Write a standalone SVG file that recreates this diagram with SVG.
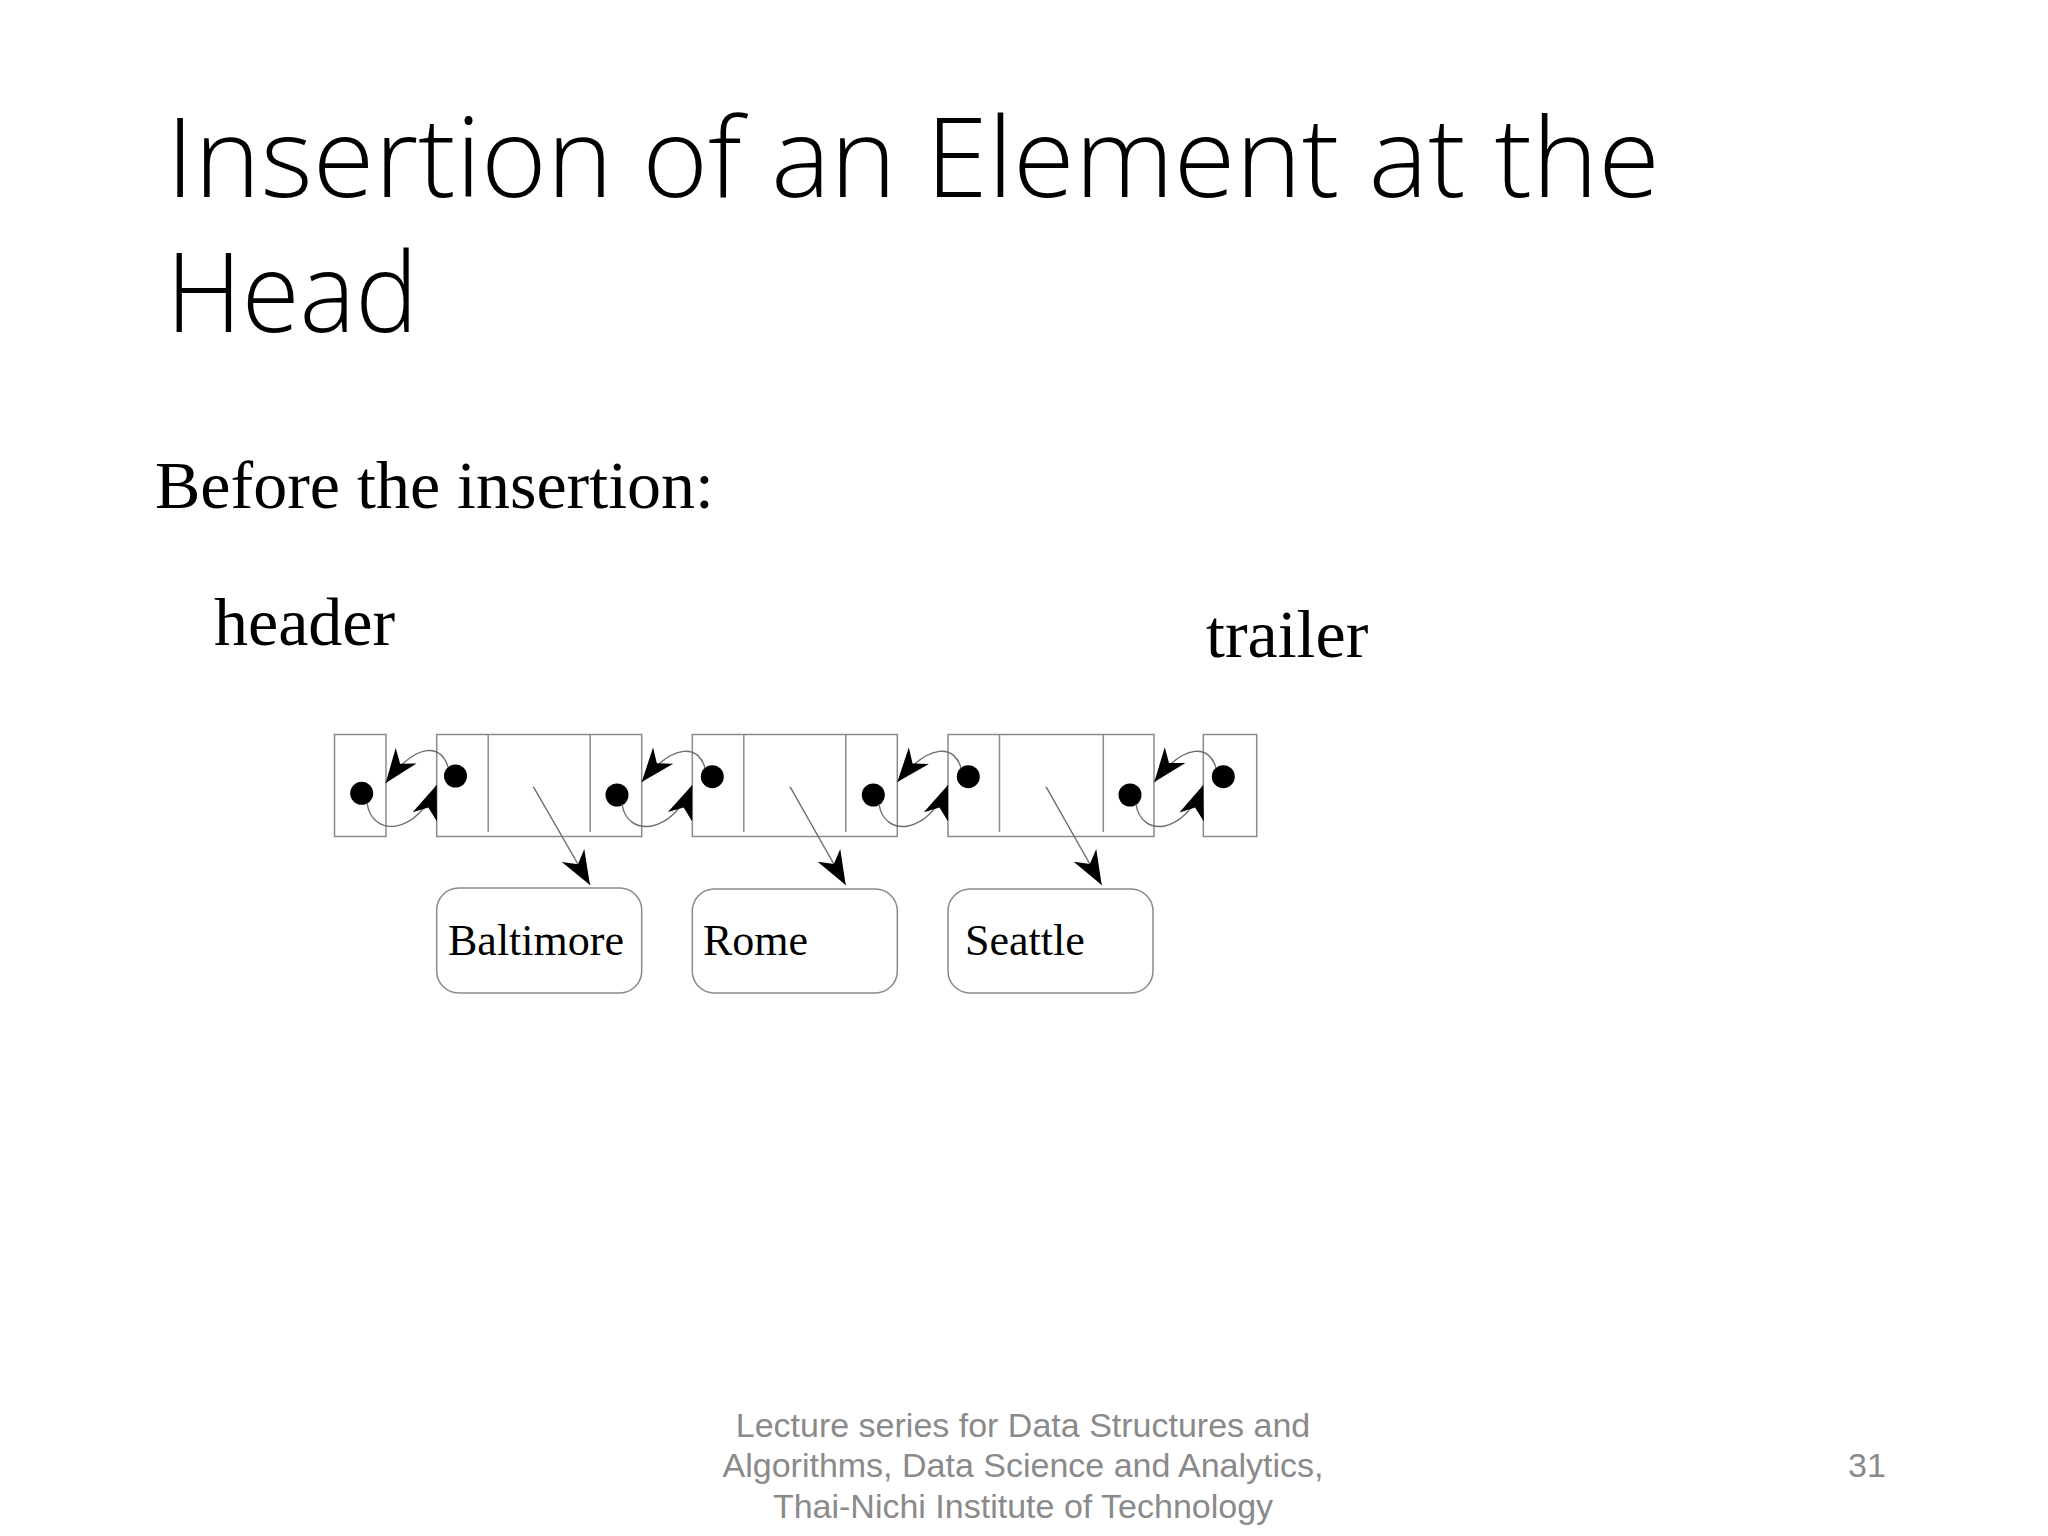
<svg xmlns="http://www.w3.org/2000/svg" width="2048" height="1536" viewBox="0 0 2048 1536">
<style>
.title{font-family:"Open Sans","Noto Sans",sans-serif;font-weight:300;font-size:110px;fill:#000}
.serif{font-family:"Liberation Serif","Times New Roman",serif;fill:#000}
.foot{font-family:"Liberation Sans",Arial,sans-serif;font-size:34px;fill:#8a8a8a}
.box{fill:#fff;stroke:#8a8a8a;stroke-width:1.5}
.div{stroke:#8a8a8a;stroke-width:1.5}
.ptr{fill:none;stroke:#6e6e6e;stroke-width:1.4}
.dot{fill:#000}
</style>
<defs>
<marker id="ah" markerUnits="userSpaceOnUse" viewBox="-35 -14 36 28" refX="0" refY="0" markerWidth="36" markerHeight="28" orient="auto">
<path d="M0,0 L-34,-13 L-24,0 L-34,13 Z" fill="#000"/>
</marker>
</defs>
<rect width="2048" height="1536" fill="#fff"/>
<text class="title" x="166" y="197" textLength="1494" lengthAdjust="spacingAndGlyphs">Insertion of an Element at the</text>
<text class="title" x="166" y="332" textLength="252" lengthAdjust="spacingAndGlyphs">Head</text>
<text class="serif" x="155" y="508" font-size="68">Before the insertion:</text>
<text class="serif" x="214" y="645" font-size="68">header</text>
<text class="serif" x="1206" y="657" font-size="68">trailer</text>

<g id="header">
<rect class="box" x="334.5" y="734.5" width="51.5" height="102"/>
<circle class="dot" cx="361.7" cy="793.3" r="11.5"/>
</g>
<g id="node1">
<rect class="box" x="436.7" y="734.5" width="205" height="102"/>
<line class="div" x1="488.2" y1="734.5" x2="488.2" y2="832"/>
<line class="div" x1="590.2" y1="734.5" x2="590.2" y2="832"/>
<circle class="dot" cx="455.5" cy="776" r="11.5"/>
<circle class="dot" cx="617" cy="795" r="11.5"/>
</g>
<g id="node2">
<rect class="box" x="692.3" y="734.5" width="205" height="102"/>
<line class="div" x1="743.8" y1="734.5" x2="743.8" y2="832"/>
<line class="div" x1="845.8" y1="734.5" x2="845.8" y2="832"/>
<circle class="dot" cx="712.3" cy="776.7" r="11.5"/>
<circle class="dot" cx="873.3" cy="795" r="11.5"/>
</g>
<g id="node3">
<rect class="box" x="948" y="734.5" width="206" height="102"/>
<line class="div" x1="999.5" y1="734.5" x2="999.5" y2="832"/>
<line class="div" x1="1103.3" y1="734.5" x2="1103.3" y2="832"/>
<circle class="dot" cx="968.3" cy="776.7" r="11.5"/>
<circle class="dot" cx="1130" cy="795" r="11.5"/>
</g>
<g id="trailer">
<rect class="box" x="1203.3" y="734.5" width="53.4" height="102"/>
<circle class="dot" cx="1223.3" cy="776.7" r="11.5"/>
</g>
<g id="val1">
<rect class="box" x="436.7" y="888" width="205" height="105" rx="22"/>
<text class="serif" x="448" y="955" font-size="44">Baltimore</text>
</g>
<g id="val2">
<rect class="box" x="692.3" y="889" width="205" height="104" rx="22"/>
<text class="serif" x="703" y="955" font-size="44">Rome</text>
</g>
<g id="val3">
<rect class="box" x="948" y="889" width="205" height="104" rx="22"/>
<text class="serif" x="965" y="955" font-size="44">Seattle</text>
</g>

<g id="connectors">
<path class="ptr" d="M448,767 C442,745 418,740 385.7,783" marker-end="url(#ah)"/>
<path class="ptr" d="M367,803 C372,838 418,835 436.7,785" marker-end="url(#ah)"/>
<path class="ptr" d="M705,768 C699,746 675,741 641.7,782" marker-end="url(#ah)"/>
<path class="ptr" d="M622,804 C627,838 673,835 692.3,785" marker-end="url(#ah)"/>
<path class="ptr" d="M961,768 C955,746 931,741 897.3,782" marker-end="url(#ah)"/>
<path class="ptr" d="M879,804 C884,838 929,835 948,785" marker-end="url(#ah)"/>
<path class="ptr" d="M1216,768 C1210,746 1186,741 1154.3,782" marker-end="url(#ah)"/>
<path class="ptr" d="M1136,804 C1141,838 1185,835 1203.3,785" marker-end="url(#ah)"/>
<path class="ptr" d="M533.3,786.7 L590,885" marker-end="url(#ah)"/>
<path class="ptr" d="M790,786.7 L845.7,885" marker-end="url(#ah)"/>
<path class="ptr" d="M1046,786.7 L1101.7,885" marker-end="url(#ah)"/>
</g>

<text class="foot" x="1023" y="1437" text-anchor="middle">Lecture series for Data Structures and</text>
<text class="foot" x="1023" y="1477" text-anchor="middle">Algorithms, Data Science and Analytics,</text>
<text class="foot" x="1023" y="1518" text-anchor="middle">Thai-Nichi Institute of Technology</text>
<text class="foot" x="1848" y="1477">31</text>
</svg>
